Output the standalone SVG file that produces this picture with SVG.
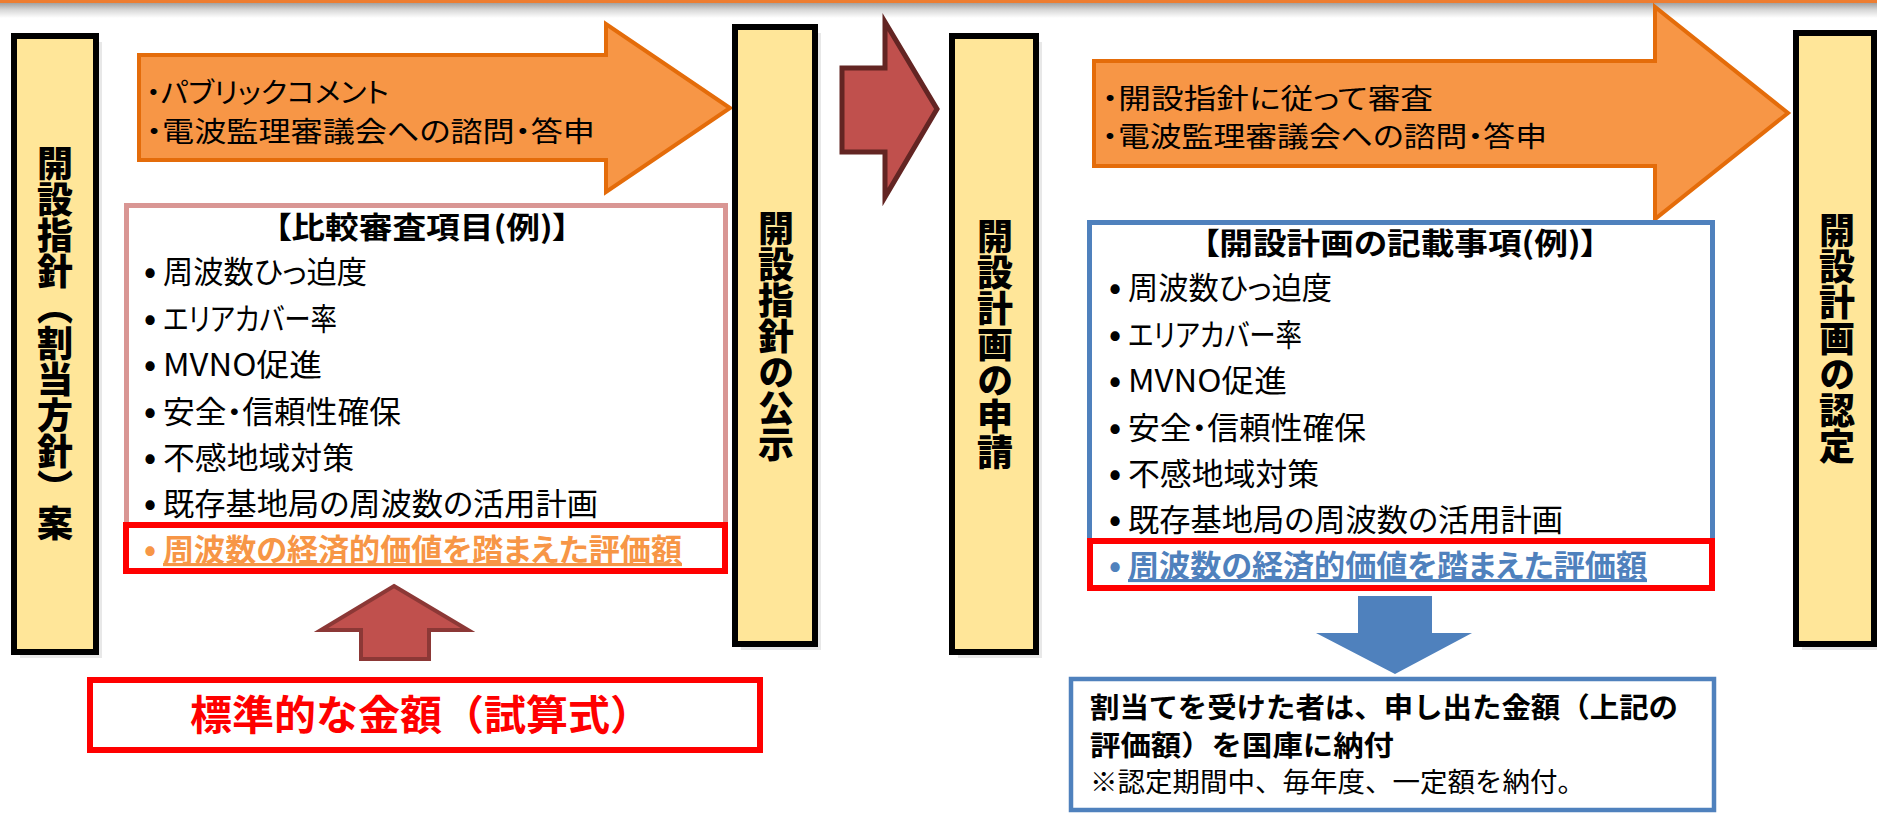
<svg xmlns="http://www.w3.org/2000/svg" width="1877" height="813" viewBox="0 0 1877 813">
<defs>
<linearGradient id="topShade" x1="0" y1="0" x2="0" y2="1">
<stop offset="0" stop-color="#9a9a9a"/>
<stop offset="0.5" stop-color="#d8d8d8"/>
<stop offset="1" stop-color="#ffffff"/>
</linearGradient>
</defs>
<style>
text { font-family: "Noto Sans CJK JP", "Noto Sans CJK SC", sans-serif; fill: #000; }
.h { font-feature-settings: "palt"; }
.v { font-size: 36px; font-weight: 900; writing-mode: vertical-rl; text-anchor: middle; }
.col { fill: #FFE699; stroke: #000; stroke-width: 6; }
.shadow { fill: #E8E8E8; }
.oarrow { fill: #F79646; stroke: #E46C0A; stroke-width: 4; stroke-linejoin: miter; }
.atext { font-size: 28px; }
.item { font-size: 31px; }
.dot { font-size: 32px; font-weight: bold; }
.ttl { font-size: 30px; font-weight: bold; text-anchor: middle; }
.hl { font-weight: bold; text-decoration: underline; }
.redbox { fill: #ffffff; stroke: #FF0000; stroke-width: 6; }
</style>
<rect x="0" y="0" width="1877" height="813" fill="#ffffff"/>
<rect x="0" y="2" width="1877" height="16" fill="url(#topShade)"/>
<rect x="0" y="0" width="1877" height="3" fill="#ED7D31"/>

<g id="connectors">
<path d="M842,68 H885 V22 L937,109 L885,197 V152 H842 Z" fill="#C0504D" stroke="#632523" stroke-width="5"/>
<path d="M394,586 L468,630 H429 V659 H361 V630 H321 Z" fill="#C0504D" stroke="#8C3836" stroke-width="4"/>
<path d="M1358,596 H1432 V633 H1472 L1395,674 L1316,633 H1358 Z" fill="#4F81BD"/>
</g>

<g id="node-draft">
<rect class="shadow" x="20" y="42" width="82" height="616"/>
<rect class="col" x="14" y="36" width="82" height="616"/>
<text class="v" x="55" y="343">開設指針（割当方針）案</text>
</g>

<g id="node-arrow1">
<path class="oarrow" d="M139,55 H606 V24 L730,108 L606,192 V160 H139 Z"/>
<text class="atext h" x="146" y="103" textLength="243" lengthAdjust="spacingAndGlyphs">・パブリックコメント</text>
<text class="atext h" x="146" y="142" textLength="449" lengthAdjust="spacingAndGlyphs">・電波監理審議会への諮問・答申</text>
</g>

<g id="node-criteria">
<rect x="126.5" y="205.5" width="599" height="340" fill="#ffffff" stroke="#D99694" stroke-width="5"/>
<text class="ttl h" x="422" y="238" textLength="295" lengthAdjust="spacingAndGlyphs">【比較審査項目(例)】</text>
<text class="dot" x="144" y="283">•</text>
<text class="item h" x="163" y="283" textLength="204" lengthAdjust="spacingAndGlyphs">周波数ひっ迫度</text>
<text class="dot" x="144" y="330">•</text>
<text class="item h" x="163" y="330" textLength="174" lengthAdjust="spacingAndGlyphs">エリアカバー率</text>
<text class="dot" x="144" y="376">•</text>
<text class="item h" x="163" y="376" textLength="159" lengthAdjust="spacingAndGlyphs">MVNO促進</text>
<text class="dot" x="144" y="423">•</text>
<text class="item h" x="163" y="423" textLength="238" lengthAdjust="spacingAndGlyphs">安全・信頼性確保</text>
<text class="dot" x="144" y="469">•</text>
<text class="item h" x="163" y="469" textLength="191" lengthAdjust="spacingAndGlyphs">不感地域対策</text>
<text class="dot" x="144" y="515">•</text>
<text class="item h" x="163" y="515" textLength="435" lengthAdjust="spacingAndGlyphs">既存基地局の周波数の活用計画</text>
<rect class="redbox" x="126" y="525" width="599" height="46"/>
<text class="dot" x="144" y="561" style="fill:#F79646">•</text>
<text class="item hl h" x="163" y="561" textLength="519" lengthAdjust="spacingAndGlyphs" style="fill:#F79646">周波数の経済的価値を踏まえた評価額</text>
</g>

<g id="node-standard">
<rect class="redbox" x="90" y="680" width="670" height="70"/>
<text x="190" y="730" font-size="41" font-weight="bold" textLength="462" lengthAdjust="spacingAndGlyphs" style="fill:#FF0000">標準的な金額（試算式）</text>
</g>

<g id="node-publish">
<rect class="shadow" x="741" y="33" width="80" height="617"/>
<rect class="col" x="735" y="27" width="80" height="617"/>
<text class="v" x="776" y="336">開設指針の公示</text>
</g>

<g id="node-apply">
<rect class="shadow" x="958" y="42" width="84" height="616"/>
<rect class="col" x="952" y="36" width="84" height="616"/>
<text class="v" x="995" y="344">開設計画の申請</text>
</g>

<g id="node-arrow2">
<path class="oarrow" d="M1094,61 H1655 V7 L1788,113 L1655,219 V166 H1094 Z"/>
<text class="atext h" x="1102" y="109" textLength="331" lengthAdjust="spacingAndGlyphs">・開設指針に従って審査</text>
<text class="atext h" x="1102" y="147" textLength="445" lengthAdjust="spacingAndGlyphs">・電波監理審議会への諮問・答申</text>
</g>

<g id="node-plan">
<rect x="1089.5" y="222.5" width="623" height="330" fill="#ffffff" stroke="#4F81BD" stroke-width="5"/>
<text class="ttl h" x="1400" y="254" textLength="395" lengthAdjust="spacingAndGlyphs">【開設計画の記載事項(例)】</text>
<text class="dot" x="1109" y="299">•</text>
<text class="item h" x="1128" y="299" textLength="204" lengthAdjust="spacingAndGlyphs">周波数ひっ迫度</text>
<text class="dot" x="1109" y="346">•</text>
<text class="item h" x="1128" y="346" textLength="174" lengthAdjust="spacingAndGlyphs">エリアカバー率</text>
<text class="dot" x="1109" y="392">•</text>
<text class="item h" x="1128" y="392" textLength="159" lengthAdjust="spacingAndGlyphs">MVNO促進</text>
<text class="dot" x="1109" y="439">•</text>
<text class="item h" x="1128" y="439" textLength="238" lengthAdjust="spacingAndGlyphs">安全・信頼性確保</text>
<text class="dot" x="1109" y="485">•</text>
<text class="item h" x="1128" y="485" textLength="191" lengthAdjust="spacingAndGlyphs">不感地域対策</text>
<text class="dot" x="1109" y="531">•</text>
<text class="item h" x="1128" y="531" textLength="435" lengthAdjust="spacingAndGlyphs">既存基地局の周波数の活用計画</text>
<rect class="redbox" x="1090" y="541" width="622" height="47"/>
<text class="dot" x="1109" y="577" style="fill:#4F81BD">•</text>
<text class="item hl h" x="1128" y="577" textLength="519" lengthAdjust="spacingAndGlyphs" style="fill:#4F81BD">周波数の経済的価値を踏まえた評価額</text>
</g>

<g id="node-payment">
<rect x="1071" y="679" width="643" height="131" fill="#ffffff" stroke="#4F81BD" stroke-width="4.5"/>
<text x="1090" y="718" font-size="28" font-weight="bold" textLength="588" lengthAdjust="spacingAndGlyphs">割当てを受けた者は、申し出た金額（上記の</text>
<text x="1090" y="756" font-size="28" font-weight="bold" textLength="304" lengthAdjust="spacingAndGlyphs">評価額）を国庫に納付</text>
<text x="1090" y="792" font-size="27" textLength="495" lengthAdjust="spacingAndGlyphs">※認定期間中、毎年度、一定額を納付。</text>
</g>

<g id="node-approve">
<rect class="shadow" x="1802" y="39" width="78" height="611"/>
<rect class="col" x="1796" y="33" width="78" height="611"/>
<text class="v" x="1837" y="338">開設計画の認定</text>
</g>
</svg>
